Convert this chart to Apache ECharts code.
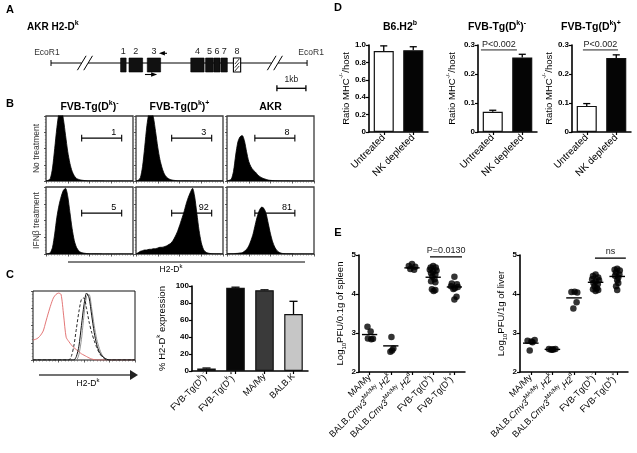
<!DOCTYPE html>
<html>
<head>
<meta charset="utf-8">
<script src="https://cdn.jsdelivr.net/npm/echarts@6/dist/echarts.min.js"></script>
<style>html,body{margin:0;padding:0;background:#fff;}#chart{width:637px;height:453px;}</style>
</head>
<body>
<div id="chart"></div>
<script>
// ================= DATA =================
// Panel A: AKR H2-Dk gene map (positions in kb)
const exonStart = [2.40, 2.69, 3.32, 4.82, 5.33, 5.62, 5.86, 6.29];
const exonEnd   = [2.59, 3.16, 3.78, 5.28, 5.60, 5.83, 6.08, 6.54];
const exonNames = ['1', '2', '3', '4', '5', '6', '7', '8'];
const exonHatched = [false, false, false, false, false, false, false, true];
const locusEnds = [0, 8.83];
const locusBreaks = [1.17, 7.72];
const siteNames = ['EcoR1', 'EcoR1'];
const sitePos = [-0.14, 8.97];
const primerFwd = [3.24, 3.66];
const primerRev = [4.00, 3.72];
const scaleBarKb = [7.79, 8.79];
const scaleBarLabel = '1kb';

// Panel B: flow histograms (relative H2-Dk fluorescence bins, normalised counts)
const histBins = [0,0.025,0.05,0.075,0.1,0.125,0.15,0.175,0.2,0.225,0.25,0.275,0.3,0.325,0.35,0.375,0.4,0.425,0.45,0.475,0.5,0.525,0.55,0.575,0.6,0.625,0.65,0.675,0.7,0.725,0.75,0.775,0.8,0.825,0.85,0.875,0.9,0.925,0.95,0.975,1];
const bNoTxNeg = [0,0.01,0.04,0.2,0.5,0.82,1.05,1.1,0.95,0.7,0.45,0.27,0.15,0.08,0.04,0.025,0.015,0.01,0.006,0.004,0.003,0.003,0.002,0.002,0.002,0.002,0.002,0.001,0.001,0.001,0.001,0.001,0.001,0.001,0.001,0.001,0.001,0.001,0.001,0.001,0];
const bNoTxPos = [0,0.01,0.05,0.22,0.52,0.85,1.05,1.08,0.98,0.76,0.52,0.33,0.2,0.11,0.06,0.035,0.02,0.012,0.008,0.005,0.004,0.003,0.003,0.002,0.002,0.002,0.002,0.001,0.001,0.001,0.001,0.001,0.001,0.001,0.001,0.001,0.001,0.001,0.001,0.001,0];
const bNoTxAkr = [0,0.01,0.03,0.15,0.4,0.6,0.68,0.7,0.62,0.45,0.3,0.22,0.17,0.14,0.1,0.07,0.05,0.035,0.025,0.015,0.01,0.007,0.005,0.004,0.003,0.003,0.002,0.002,0.002,0.001,0.001,0.001,0.001,0.001,0.001,0.001,0.001,0.001,0.001,0.001,0];
const bIfnNeg  = [0,0.005,0.02,0.1,0.3,0.55,0.73,0.86,0.95,0.98,0.86,0.62,0.38,0.2,0.1,0.05,0.025,0.015,0.01,0.006,0.004,0.003,0.003,0.002,0.002,0.002,0.001,0.001,0.001,0.001,0.001,0.001,0.001,0.001,0.001,0.001,0.001,0.001,0.001,0.001,0];
const bIfnPos  = [0,0.02,0.04,0.05,0.06,0.06,0.07,0.07,0.08,0.08,0.09,0.1,0.1,0.11,0.12,0.14,0.16,0.2,0.26,0.33,0.42,0.52,0.62,0.74,0.84,0.92,0.98,0.85,0.6,0.35,0.17,0.07,0.03,0.015,0.008,0.004,0.003,0.002,0.002,0.001,0];
const bIfnAkr  = [0,0.003,0.005,0.005,0.008,0.01,0.015,0.02,0.04,0.07,0.12,0.2,0.3,0.44,0.57,0.66,0.7,0.68,0.6,0.45,0.3,0.18,0.1,0.05,0.025,0.012,0.006,0.004,0.003,0.002,0.002,0.001,0.001,0.001,0.001,0.001,0.001,0.001,0.001,0.001,0];
const bColumnTitles = ['{n|FVB-Tg(D}{sup|k}{n|)}{sup|-}', '{n|FVB-Tg(D}{sup|k}{n|)}{sup|+}', '{n|AKR}'];
const bRowTitles = ['No treatment', 'IFNβ treatment'];
const gateFrom  = [0.41, 0.41, 0.32, 0.41, 0.41, 0.32];
const gateTo    = [0.87, 0.87, 0.78, 0.87, 0.87, 0.78];
const gateLevel = [0.66, 0.66, 0.66, 0.61, 0.61, 0.61];
const gatePercent = ['1', '3', '8', '5', '92', '81'];

// Panel C: overlay histogram + % expression bars
const cHistRed    = [0.29,0.3,0.32,0.36,0.42,0.55,0.68,0.8,0.9,0.95,0.97,0.95,0.65,0.33,0.27,0.22,0.18,0.15,0.12,0.09,0.07,0.05,0.03,0.015,0.005,0,0,0,0,0,0,0,0,0,0,0,0,0,0,0,0];
const cHistDashed = [0,0,0,0,0,0,0,0,0,0,0,0,0,0,0,0.05,0.2,0.45,0.7,0.88,0.9,0.75,0.55,0.4,0.28,0.18,0.1,0.05,0.02,0,0,0,0,0,0,0,0,0,0,0,0];
const cHistSolid  = [0,0,0,0,0,0,0,0,0,0,0,0,0,0,0,0,0,0.05,0.2,0.5,0.8,0.97,0.9,0.65,0.4,0.22,0.12,0.06,0.03,0.01,0,0,0,0,0,0,0,0,0,0,0];
const cHistGray   = [0,0,0,0,0,0,0,0,0,0,0,0,0,0,0,0,0,0,0.08,0.3,0.65,0.92,0.95,0.75,0.5,0.3,0.17,0.08,0.03,0,0,0,0,0,0,0,0,0,0,0,0];
const cGroups = ['{n|FVB-Tg(D}{sup|k}{n|)}{sup|-}', '{n|FVB-Tg(D}{sup|k}{n|)}{sup|+}', '{n|MA/My}', '{n|BALB.K}'];
const cPercent = [3, 98, 95, 67];
const cPercentUpper = [3.5, 98.6, 95.5, 82];

// Panel D: ratio MHC-/-/host
const dGroups = ['Untreated', 'NK depleted'];
const dTitles = ['{n|B6.H2}{sup|b}', '{n|FVB-Tg(D}{sup|k}{n|)}{sup|-}', '{n|FVB-Tg(D}{sup|k}{n|)}{sup|+}'];
const dRatio = [[0.93, 0.94], [0.07, 0.257], [0.09, 0.255]];
const dRatioUpper = [[0.99, 0.98], [0.075, 0.268], [0.098, 0.266]];
const dAxisMax = [1.0, 0.3, 0.3];
const dAxisStep = [0.2, 0.1, 0.1];
const dSigFrom = [null, -0.40, -0.13];
const dSigTo = [null, 0.82, 1.06];
const dSigLevel = [null, 0.283, 0.283];
const dSigText = [null, 'P<0.002', 'P<0.002'];

// Panel E: viral titres
const eGroups = ['{n|MA/My}', '{n|BALB.}{i|Cmv3}{sup|MA/My}{n|,}{i|H2}{sup|k}', '{n|BALB.}{i|Cmv3}{sup|MA/My}{n|,}{i|H2}{sup|d}', '{n|FVB-Tg(D}{sup|k}{n|)}{sup|-}', '{n|FVB-Tg(D}{sup|k}{n|)}{sup|+}'];
const spleenMAMy = [3.16, 3.04, 2.86, 2.84, 2.85];
const spleenMAMyJit = [-0.10, 0.05, -0.08, 0.08, 0.16];
const spleenH2k = [2.90, 2.60, 2.52, 2.55];
const spleenH2kJit = [0.03, 0.12, -0.02, 0.06];
const spleenH2d = [4.77, 4.72, 4.70, 4.64, 4.62];
const spleenH2dJit = [0.00, -0.15, 0.15, -0.08, 0.10];
const spleenTgNeg = [4.72, 4.68, 4.68, 4.62, 4.60, 4.57, 4.53, 4.50, 4.45, 4.38, 4.33, 4.30, 4.12, 4.10, 4.08];
const spleenTgNegJit = [0.00, -0.12, 0.12, -0.16, 0.16, 0.00, -0.10, 0.10, -0.04, 0.06, -0.10, 0.10, -0.06, 0.10, 0.02];
const spleenTgPos = [4.44, 4.27, 4.25, 4.20, 4.18, 4.15, 4.13, 3.93, 3.86];
const spleenTgPosJit = [0.00, -0.12, 0.12, -0.16, 0.16, 0.02, -0.05, 0.10, 0.00];
const spleenMeans = [2.96, 2.67, 4.67, 4.43, 4.18];
const liverMAMy = [2.80, 2.78, 2.82, 2.76, 2.55];
const liverMAMyJit = [-0.15, 0.03, 0.18, 0.08, -0.05];
const liverH2k = [2.59, 2.57, 2.58, 2.59, 2.58];
const liverH2kJit = [-0.16, -0.06, 0.04, 0.14, 0.00];
const liverH2d = [4.05, 4.06, 4.04, 3.79, 3.63];
const liverH2dJit = [-0.12, 0.03, 0.15, 0.12, -0.03];
const liverTgNeg = [4.50, 4.46, 4.42, 4.38, 4.35, 4.32, 4.28, 4.25, 4.20, 4.15, 4.12, 4.10, 4.08];
const liverTgNegJit = [0.00, -0.12, 0.12, -0.16, 0.16, 0.00, -0.10, 0.10, -0.05, 0.06, -0.12, 0.12, 0.00];
const liverTgPos = [4.65, 4.62, 4.60, 4.55, 4.50, 4.47, 4.42, 4.35, 4.28, 4.20, 4.10];
const liverTgPosJit = [0.00, -0.12, 0.12, -0.05, 0.10, -0.10, 0.05, 0.00, 0.05, -0.05, 0.00];
const liverMeans = [2.74, 2.58, 3.90, 4.30, 4.45];
const eSigFrom = [2.85, 2.97];
const eSigTo = [4.36, 4.40];
const eSigLevel = [4.95, 4.92];
const eSigText = ['P=0.0130', 'ns'];
const eAxisTitles = ['{n|Log}{sub|10}{n|PFU/0.1g of spleen}', '{n|Log}{sub|10}{n|PFU/1g of liver}'];

// ================= BUILD =================
const FONT = '"Liberation Sans", Arial, Helvetica, sans-serif';
function rich(size, weight) {
  return {
    n: {fontSize: size, fontWeight: weight, lineHeight: size + 5, fontFamily: FONT, color: '#000'},
    i: {fontSize: size, fontWeight: weight, fontStyle: 'italic', lineHeight: size + 5, fontFamily: FONT, color: '#000'},
    sup: {fontSize: Math.round(size * 0.68), fontWeight: weight, lineHeight: Math.round(size * 0.75), verticalAlign: 'top', fontFamily: FONT, color: '#000'},
    sub: {fontSize: Math.round(size * 0.68), fontWeight: weight, lineHeight: Math.round(size * 0.75), verticalAlign: 'bottom', fontFamily: FONT, color: '#000'}
  };
}
const option = {animation: false, backgroundColor: '#ffffff', textStyle: {fontFamily: FONT, color: '#000'},
  grid: [], xAxis: [], yAxis: [], series: [], graphic: []};
function addGrid(left, top, width, height, extra) { option.grid.push(Object.assign({left, top, width, height, containLabel: false}, extra || {})); return option.grid.length - 1; }
function addX(cfg) { option.xAxis.push(cfg); return option.xAxis.length - 1; }
function addY(cfg) { option.yAxis.push(cfg); return option.yAxis.length - 1; }
function hiddenValue(g, min, max) { return {type: 'value', gridIndex: g, min, max, show: false, axisLine: {onZero: false}}; }
// an invisible twin grid on the same rectangle, used for annotations placed between categories
function overlay(g, xmin, xmax, ymin, ymax) {
  const src = option.grid[g];
  const g2 = addGrid(src.left, src.top, src.width, src.height);
  return {x: addX(hiddenValue(g2, xmin, xmax)), y: addY(hiddenValue(g2, ymin, ymax))};
}
function tStyle(extra) { return Object.assign({fill: '#000', fontFamily: FONT, align: 'center', verticalAlign: 'middle', textAlign: 'center', textVerticalAlign: 'middle'}, extra); }

function segSeries(xi, yi, segs, color, width, dash) {
  option.series.push({type: 'custom', xAxisIndex: xi, yAxisIndex: yi, clip: false, silent: true, z: 4, data: segs,
    renderItem(p, api) {
      const a = api.coord([api.value(0), api.value(1)]), b = api.coord([api.value(2), api.value(3)]);
      return {type: 'line', shape: {x1: a[0], y1: a[1], x2: b[0], y2: b[1]}, style: {stroke: color, lineWidth: width, lineDash: dash || null}};
    }});
}
function textSeries(xi, yi, pts, labels, style, dy) {
  option.series.push({type: 'custom', xAxisIndex: xi, yAxisIndex: yi, clip: false, silent: true, z: 6, data: pts,
    renderItem(p, api) {
      const c = api.coord([api.value(0), api.value(1)]);
      return {type: 'text', x: c[0], y: c[1] + (dy || 0), style: tStyle(Object.assign({text: labels[p.dataIndex]}, style))};
    }});
}
function gtext(x, y, text, style, rotation) {
  option.graphic.push({type: 'text', x, y, rotation: rotation || 0, silent: true, z: 10, style: tStyle(Object.assign({text}, style))});
}

// ---------- Panel A ----------
const gA = addGrid(51, 45, 261, 50);
const xA = addX(hiddenValue(gA, 0, 9));
const yA = addY(hiddenValue(gA, -3, 2));
const TRACK = 0.2, EXON_TOP = 0.7, EXON_BOTTOM = -0.7;
segSeries(xA, yA, [
  [locusEnds[0], TRACK, locusBreaks[0] - 0.11, TRACK],
  [locusBreaks[0] + 0.11, TRACK, locusBreaks[1] - 0.11, TRACK],
  [locusBreaks[1] + 0.11, TRACK, locusEnds[1], TRACK],
  [locusEnds[0], TRACK - 0.3, locusEnds[0], TRACK + 0.3],
  [locusEnds[1], TRACK - 0.3, locusEnds[1], TRACK + 0.3]
], '#000', 1);
const slashes = [];
locusBreaks.forEach(b => [-0.11, 0.11].forEach(k => slashes.push([b + k - 0.15, TRACK - 0.72, b + k + 0.15, TRACK + 0.72])));
segSeries(xA, yA, slashes, '#000', 1);
segSeries(xA, yA, [
  [scaleBarKb[0], -2.33, scaleBarKb[1], -2.33],
  [scaleBarKb[0], -2.63, scaleBarKb[0], -2.03],
  [scaleBarKb[1], -2.63, scaleBarKb[1], -2.03]
], '#000', 1.3);
option.series.push({type: 'custom', xAxisIndex: xA, yAxisIndex: yA, clip: false, silent: true, z: 5,
  data: exonStart.map((s, i) => [s, exonEnd[i]]),
  renderItem(p, api) {
    const tl = api.coord([api.value(0), EXON_TOP]), br = api.coord([api.value(1), EXON_BOTTOM]);
    const w = br[0] - tl[0], h = br[1] - tl[1];
    if (!exonHatched[p.dataIndex]) return {type: 'rect', shape: {x: tl[0], y: tl[1], width: w, height: h}, style: {fill: '#111', stroke: '#000', lineWidth: 0.6}};
    const ch = [{type: 'rect', shape: {x: tl[0], y: tl[1], width: w, height: h}, style: {fill: '#fff', stroke: '#000', lineWidth: 1.1}}];
    for (let k = 1; k <= 3; k++) { const yy = tl[1] + h * k / 4; ch.push({type: 'line', shape: {x1: tl[0] + 1.5, y1: yy + 2.5, x2: br[0] - 1.5, y2: yy - 2.5}, style: {stroke: '#000', lineWidth: 0.8}}); }
    return {type: 'group', children: ch};
  }});
textSeries(xA, yA, exonStart.map((s, i) => [(s + exonEnd[i]) / 2, 1.35]), exonNames, {fontSize: 9, fill: '#222'});
textSeries(xA, yA, sitePos.map(x => [x, 1.2]), siteNames, {fontSize: 8.5, fill: '#333'});
textSeries(xA, yA, [[(scaleBarKb[0] + scaleBarKb[1]) / 2, -1.45]], [scaleBarLabel], {fontSize: 8.5, fill: '#222'});
option.series.push({type: 'custom', xAxisIndex: xA, yAxisIndex: yA, clip: false, silent: true, z: 5,
  data: [[primerFwd[0], primerFwd[1], -0.95], [primerRev[0], primerRev[1], 1.17]],
  renderItem(p, api) {
    const a = api.coord([api.value(0), api.value(2)]), b = api.coord([api.value(1), api.value(2)]);
    const dir = Math.sign(b[0] - a[0]);
    return {type: 'group', children: [
      {type: 'line', shape: {x1: a[0], y1: a[1], x2: b[0] - dir * 4, y2: b[1]}, style: {stroke: '#000', lineWidth: 1.1}},
      {type: 'polygon', shape: {points: [[b[0], b[1]], [b[0] - dir * 6, b[1] - 2.3], [b[0] - dir * 6, b[1] + 2.3]]}, style: {fill: '#000'}}
    ]};
  }});

// ---------- Panel B ----------
const bHists = [bNoTxNeg, bNoTxPos, bNoTxAkr, bIfnNeg, bIfnPos, bIfnAkr];
const bLeft = [46, 136, 227], bTop = [116, 187], bHeight = [65, 67], bWidth = 87;
for (let r = 0; r < 2; r++) for (let c = 0; c < 3; c++) {
  const idx = r * 3 + c;
  const g = addGrid(bLeft[c], bTop[r], bWidth, bHeight[r], {show: true, borderColor: '#3a3a3a', borderWidth: 1.3, backgroundColor: 'transparent'});
  const xi = addX({type: 'value', gridIndex: g, min: 0, max: 1, interval: 0.25, axisLine: {show: false, onZero: false},
    axisTick: {show: true, inside: false, length: 2.5, lineStyle: {color: '#333', width: 0.8}},
    minorTick: {show: true, splitNumber: 8, length: 1.5, lineStyle: {color: '#555', width: 0.6}},
    axisLabel: {show: false}, splitLine: {show: false}, minorSplitLine: {show: false}});
  const yi = addY({type: 'value', gridIndex: g, min: 0, max: 1, interval: 0.25, axisLine: {show: false, onZero: false},
    axisTick: {show: true, length: 2, lineStyle: {color: '#333', width: 0.8}},
    minorTick: {show: true, splitNumber: 5, length: 1.2, lineStyle: {color: '#555', width: 0.6}},
    axisLabel: {show: false}, splitLine: {show: false}, minorSplitLine: {show: false}});
  option.series.push({type: 'line', xAxisIndex: xi, yAxisIndex: yi, smooth: 0.25, symbol: 'none', clip: true, silent: true,
    data: histBins.map((x, i) => [x, bHists[idx][i]]),
    lineStyle: {color: '#000', width: 0.8}, areaStyle: {color: '#000', opacity: 1}});
  option.series.push({type: 'custom', xAxisIndex: xi, yAxisIndex: yi, clip: false, silent: true, z: 6,
    data: [[gateFrom[idx], gateTo[idx], gateLevel[idx]]],
    renderItem(p, api) {
      const a = api.coord([api.value(0), api.value(2)]), b = api.coord([api.value(1), api.value(2)]);
      const lp = api.coord([api.value(1) - 0.09, api.value(2)]);
      const cap = 3.3;
      return {type: 'group', children: [
        {type: 'line', shape: {x1: a[0], y1: a[1], x2: b[0], y2: b[1]}, style: {stroke: '#000', lineWidth: 1.1}},
        {type: 'line', shape: {x1: a[0], y1: a[1] - cap, x2: a[0], y2: a[1] + cap}, style: {stroke: '#000', lineWidth: 1.1}},
        {type: 'line', shape: {x1: b[0], y1: b[1] - cap, x2: b[0], y2: b[1] + cap}, style: {stroke: '#000', lineWidth: 1.1}},
        {type: 'text', x: lp[0], y: a[1] - 1.5, style: tStyle({text: gatePercent[idx], fontSize: 9, verticalAlign: 'bottom', textVerticalAlign: 'bottom'})}
      ]};
    }});
}
bColumnTitles.forEach((t, c) => gtext(bLeft[c] + bWidth / 2, 107, t, {rich: rich(10.5, 'bold')}));
gtext(37, bTop[0] + bHeight[0] / 2, bRowTitles[0], {fontSize: 8.5, fill: '#333'}, Math.PI / 2);
gtext(37, bTop[1] + bHeight[1] / 2, bRowTitles[1], {fontSize: 8.5, fill: '#333'}, Math.PI / 2);
option.graphic.push({type: 'line', silent: true, shape: {x1: 68, y1: 262, x2: 305, y2: 262}, style: {stroke: '#000', lineWidth: 1}});
gtext(171, 270, '{n|H2-D}{sup|k}', {rich: rich(8.5, 'normal')});

// ---------- Panel C (histogram overlay) ----------
const gC1 = addGrid(33, 291, 102, 69, {show: true, borderColor: '#111', borderWidth: 1, backgroundColor: 'transparent'});
const xC1 = addX({type: 'value', gridIndex: gC1, min: 0, max: 1, interval: 0.25, axisLine: {show: false, onZero: false},
  axisTick: {show: true, length: 2.5, lineStyle: {color: '#333', width: 0.8}},
  minorTick: {show: true, splitNumber: 8, length: 1.5, lineStyle: {color: '#555', width: 0.6}},
  axisLabel: {show: false}, splitLine: {show: false}});
const yC1 = addY({type: 'value', gridIndex: gC1, min: 0, max: 1, interval: 0.25, axisLine: {show: false, onZero: false},
  axisTick: {show: true, length: 2, lineStyle: {color: '#333', width: 0.8}},
  minorTick: {show: true, splitNumber: 5, length: 1.2, lineStyle: {color: '#555', width: 0.6}},
  axisLabel: {show: false}, splitLine: {show: false}});
[[cHistRed, '#e06666', 'solid', 0.9], [cHistGray, '#888888', 'solid', 0.9], [cHistDashed, '#111111', [3, 2], 0.9], [cHistSolid, '#111111', 'solid', 1]].forEach(s => {
  option.series.push({type: 'line', xAxisIndex: xC1, yAxisIndex: yC1, smooth: 0.25, symbol: 'none', silent: true,
    data: histBins.map((x, i) => [x, s[0][i]]), lineStyle: {color: s[1], type: s[2], width: s[3]}});
});
option.graphic.push({type: 'line', silent: true, shape: {x1: 39, y1: 375, x2: 131, y2: 375}, style: {stroke: '#444', lineWidth: 1.6}});
option.graphic.push({type: 'polygon', silent: true, shape: {points: [[130, 370], [138, 375], [130, 380]]}, style: {fill: '#222'}});
gtext(88, 384, '{n|H2-D}{sup|k}', {rich: rich(8.5, 'normal')});

// ---------- bar-chart axis helpers ----------
function catX(g, data, size) {
  return addX({type: 'category', gridIndex: g, data, boundaryGap: true,
    axisLine: {show: true, onZero: false, lineStyle: {color: '#000', width: 1.5}},
    axisTick: {show: true, alignWithLabel: true, length: 3, lineStyle: {color: '#000', width: 1.2}},
    axisLabel: {rotate: 45, interval: 0, margin: 4, fontSize: size, color: '#000', rich: rich(size, 'normal')},
    splitLine: {show: false}});
}
function valY(g, min, max, step, name, gap, fmt) {
  return addY({type: 'value', gridIndex: g, min, max, interval: step, position: 'left',
    axisLine: {show: true, onZero: false, lineStyle: {color: '#000', width: 1.6}},
    axisTick: {show: true, length: 3, lineStyle: {color: '#000', width: 1.2}},
    axisLabel: {fontSize: 8, fontWeight: 'bold', color: '#000', margin: 3, formatter: fmt},
    splitLine: {show: false},
    name, nameLocation: 'middle', nameGap: gap, nameTextStyle: {rich: rich(9.5, 'normal')}});
}
function errSeries(xi, yi, vals, upper, capHalf) {
  option.series.push({type: 'custom', xAxisIndex: xi, yAxisIndex: yi, clip: false, silent: true, z: 3,
    data: vals.map((v, i) => [i, v, upper[i]]),
    renderItem(p, api) {
      const a = api.coord([api.value(0), api.value(1)]), b = api.coord([api.value(0), api.value(2)]);
      const l = api.coord([api.value(0) - capHalf, api.value(2)]), r = api.coord([api.value(0) + capHalf, api.value(2)]);
      return {type: 'group', children: [
        {type: 'line', shape: {x1: a[0], y1: a[1], x2: b[0], y2: b[1]}, style: {stroke: '#000', lineWidth: 1.3}},
        {type: 'line', shape: {x1: l[0], y1: l[1], x2: r[0], y2: r[1]}, style: {stroke: '#000', lineWidth: 1.3}}
      ]};
    }});
}

// ---------- Panel C (bars) ----------
const cColors = ['#ffffff', '#080808', '#3a3a3a', '#c6c6c6'];
const gC2 = addGrid(192, 286, 116, 85);
const xC2 = catX(gC2, cGroups, 9);
const yC2 = valY(gC2, 0, 100, 20, '{n|% H2-D}{sup|k}{n| expression}', 22, v => String(v));
const ovC2 = overlay(gC2, -0.5, 3.5, 0, 100);
errSeries(ovC2.x, ovC2.y, cPercent, cPercentUpper, 0.14);
option.series.push({type: 'bar', xAxisIndex: xC2, yAxisIndex: yC2, barWidth: '64%', silent: true, z: 4,
  data: cPercent.map((v, i) => ({value: v, itemStyle: {color: cColors[i]}})),
  itemStyle: {borderColor: '#111', borderWidth: 1.2}});

// ---------- Panel D ----------
const dLeft = [369, 478, 572], dNameGap = [12, 18, 13], dTitleX = [400, 497, 591];
const dColors = ['#ffffff', '#050505'];
for (let k = 0; k < 3; k++) {
  const g = addGrid(dLeft[k], 45, 59, 87);
  const xi = catX(g, dGroups, 10);
  const yi = valY(g, 0, dAxisMax[k], dAxisStep[k], '{n|Ratio MHC}{sup|-/-}{n|/host}', dNameGap[k], v => (v === 0 ? '0' : v.toFixed(1)));
  const ov = overlay(g, -0.5, 1.5, 0, dAxisMax[k]);
  errSeries(ov.x, ov.y, dRatio[k], dRatioUpper[k], 0.12);
  option.series.push({type: 'bar', xAxisIndex: xi, yAxisIndex: yi, barWidth: '68%', silent: true, z: 4,
    data: dRatio[k].map((v, i) => ({value: v, itemStyle: {color: dColors[i]}})),
    itemStyle: {borderColor: '#111', borderWidth: 1.2}});
  if (dSigText[k]) {
    segSeries(ov.x, ov.y, [[dSigFrom[k], dSigLevel[k], dSigTo[k], dSigLevel[k]]], '#222', 1);
    textSeries(ov.x, ov.y, [[(dSigFrom[k] + dSigTo[k]) / 2, dSigLevel[k]]], [dSigText[k]], {fontSize: 9, fill: '#222', verticalAlign: 'bottom', textVerticalAlign: 'bottom'}, -1);
  }
  gtext(dTitleX[k], 27, dTitles[k], {rich: rich(10.5, 'bold')});
}

// ---------- Panel E ----------
const eLeft = [359, 520], eWidth = [106, 108], eNameGap = [11, 11];
const eValues = [[spleenMAMy, spleenH2k, spleenH2d, spleenTgNeg, spleenTgPos], [liverMAMy, liverH2k, liverH2d, liverTgNeg, liverTgPos]];
const eJitter = [[spleenMAMyJit, spleenH2kJit, spleenH2dJit, spleenTgNegJit, spleenTgPosJit], [liverMAMyJit, liverH2kJit, liverH2dJit, liverTgNegJit, liverTgPosJit]];
const eMeans = [spleenMeans, liverMeans];
for (let k = 0; k < 2; k++) {
  const g = addGrid(eLeft[k], 255, eWidth[k], 117);
  catX(g, eGroups, 9);
  valY(g, 2, 5, 1, eAxisTitles[k], eNameGap[k], v => String(v));
  const ov = overlay(g, -0.5, 4.5, 2, 5);
  const pts = [];
  eValues[k].forEach((vals, gi) => vals.forEach((v, j) => pts.push([gi + eJitter[k][gi][j], v])));
  option.series.push({type: 'scatter', xAxisIndex: ov.x, yAxisIndex: ov.y, symbol: 'circle', symbolSize: 6.5, silent: true, z: 4,
    data: pts, itemStyle: {color: '#000'}});
  segSeries(ov.x, ov.y, eMeans[k].map((m, gi) => [gi - 0.36, m, gi + 0.36, m]), '#000', 1.4);
  segSeries(ov.x, ov.y, [[eSigFrom[k], eSigLevel[k], eSigTo[k], eSigLevel[k]]], '#000', 1.3);
  textSeries(ov.x, ov.y, [[(eSigFrom[k] + eSigTo[k]) / 2, eSigLevel[k]]], [eSigText[k]], {fontSize: 9, fill: '#222', verticalAlign: 'bottom', textVerticalAlign: 'bottom'}, -2);
}

// ---------- panel letters & headings ----------
[['A', 10, 10], ['B', 10, 104], ['C', 10, 275], ['D', 338, 8], ['E', 338, 233]].forEach(l => gtext(l[1], l[2], l[0], {fontSize: 11, fontWeight: 'bold'}));
option.graphic.push({type: 'text', x: 27, y: 27, silent: true, style: {text: '{n|AKR H2-D}{sup|k}', rich: rich(10, 'bold'), align: 'left', verticalAlign: 'middle', textAlign: 'left', textVerticalAlign: 'middle'}});

const chart = echarts.init(document.getElementById('chart'), null, {renderer: 'canvas', width: 637, height: 453});
chart.setOption(option);
</script>
</body>
</html>
